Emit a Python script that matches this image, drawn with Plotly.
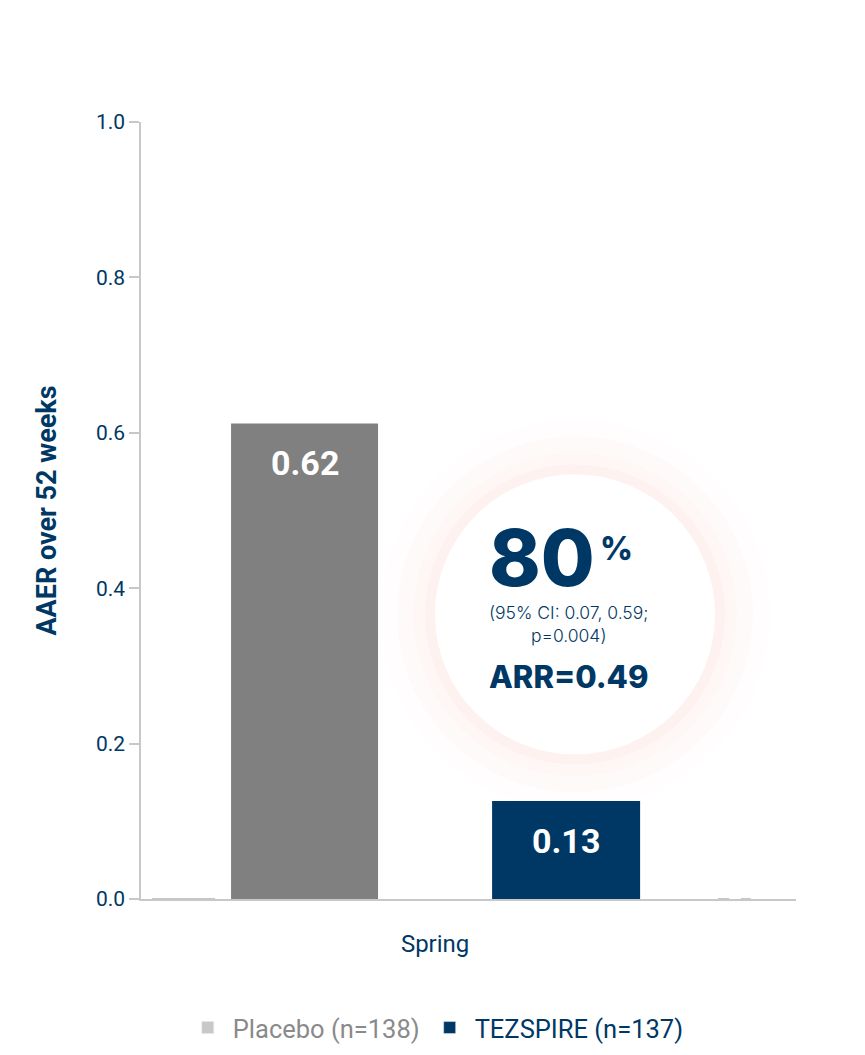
import plotly.graph_objects as go

# data
categories = ['Spring']
placebo_values = [0.612]
tezspire_values = [0.126]
bar_labels = ['0.62', '0.13']
edge_values = [0, 0, 0]
series_names = ['Placebo (n=138)', 'TEZSPIRE (n=137)']
y_ticks = [0.0, 0.2, 0.4, 0.6, 0.8, 1.0]

NAVY = '#003865'
GRAY = '#808080'
LIGHT = '#c8c8c8'
EDGE = '#b3b3b3'

fig = go.Figure()

# thin zero-height bars at the edges of the group
edge_offsets = [-0.432, 0.432, 0.467]
edge_widths = [0.096, 0.017, 0.015]
for val, off, w in zip(edge_values, edge_offsets, edge_widths):
    fig.add_trace(go.Bar(
        x=categories, y=[val], offset=off, width=w,
        marker=dict(color=EDGE, line=dict(color=EDGE, width=1.5)),
        showlegend=False, hoverinfo='skip'
    ))

fig.add_trace(go.Bar(
    x=categories, y=placebo_values, offset=-0.3115, width=0.2244,
    marker=dict(color=GRAY, line=dict(width=0)), showlegend=False
))
fig.add_trace(go.Bar(
    x=categories, y=tezspire_values, offset=0.087, width=0.226,
    marker=dict(color=NAVY, line=dict(width=0)), showlegend=False
))

# legend-only entries
fig.add_trace(go.Bar(
    x=categories, y=[None], marker_color=LIGHT,
    name=f"<span style='color:#8a8a8a'>{series_names[0]}</span>"
))
fig.add_trace(go.Bar(
    x=categories, y=[None], marker_color=NAVY,
    name=f"<span style='color:{NAVY}'>{series_names[1]}</span>"
))

# value labels inside the bars
bar_centers = [-0.3115 + 0.2244 / 2, 0.087 + 0.226 / 2]
for xc, val, lab in zip(bar_centers, placebo_values + tezspire_values, bar_labels):
    fig.add_annotation(
        x=xc, y=val, xref='x', yref='y', text=lab, showarrow=False,
        yanchor='top', yshift=-18,
        font=dict(family='Roboto', size=34, color='white', weight='bold')
    )

# faint halo + white circle behind the callout
cx, cy = (575 - 141) / 655, (900 - 615) / 778
for r, op in [(195, 0.012), (178, 0.018), (162, 0.025), (150, 0.03)]:
    fig.add_shape(type='circle', xref='paper', yref='paper',
                  xsizemode='pixel', ysizemode='pixel', xanchor=cx, yanchor=cy,
                  x0=-r, x1=r, y0=-r, y1=r, layer='below',
                  fillcolor=f'rgba(235,110,90,{op})', line=dict(width=0))
fig.add_shape(type='circle', xref='paper', yref='paper',
              xsizemode='pixel', ysizemode='pixel', xanchor=cx, yanchor=cy,
              x0=-140, x1=140, y0=-140, y1=140, layer='below',
              fillcolor='white', line=dict(width=0))

def px(xp, yp):
    return (xp - 141) / 655, (900 - yp) / 778

callouts = [
    ('80', 542, 558, 78, 800),
    ('%', 616, 549, 32, 800),
    ('(95% CI: 0.07, 0.59;<br>p=0.004)', 568, 625, 17.5, 300),
    ('ARR=0.49', 568, 677, 31, 800),
]
for text, xp, yp, size, weight in callouts:
    ax, ay = px(xp, yp)
    fig.add_annotation(
        x=ax, y=ay, xref='paper', yref='paper', text=text, showarrow=False,
        xanchor='center', yanchor='middle',
        font=dict(family='Inter', size=size, color=NAVY, weight=weight)
    )

fig.update_layout(
    width=865, height=1055,
    margin=dict(l=133, r=77, t=114, b=160),
    paper_bgcolor='white', plot_bgcolor='rgba(0,0,0,0)',
    barmode='overlay',
    font=dict(family='Roboto', color=NAVY),
    showlegend=True,
    legend=dict(
        orientation='h', x=0.45, xanchor='center', y=-0.166, yanchor='middle',
        font=dict(family='Roboto', size=25.5), itemclick=False,
        itemwidth=40, traceorder='normal'
    ),
    xaxis=dict(
        type='category', range=[-0.449, 0.551],
        showline=True, linecolor=LIGHT, linewidth=1.5,
        ticks='', showgrid=False, zeroline=False,
        tickfont=dict(family='Roboto', size=24, color=NAVY),
        ticklabelstandoff=22
    ),
    yaxis=dict(
        range=[0, 1], tickvals=y_ticks, tickformat='.1f',
        showline=True, linecolor=LIGHT, linewidth=1.5,
        ticks='outside', ticklen=10, tickcolor=LIGHT, tickwidth=1.5,
        showgrid=False, zeroline=False,
        tickfont=dict(family='Roboto', size=21, color=NAVY),
        title=dict(text='AAER over 52 weeks', standoff=31,
                   font=dict(family='Roboto', size=27, color=NAVY, weight='bold'))
    ),
)

fig.write_html('out.html')
